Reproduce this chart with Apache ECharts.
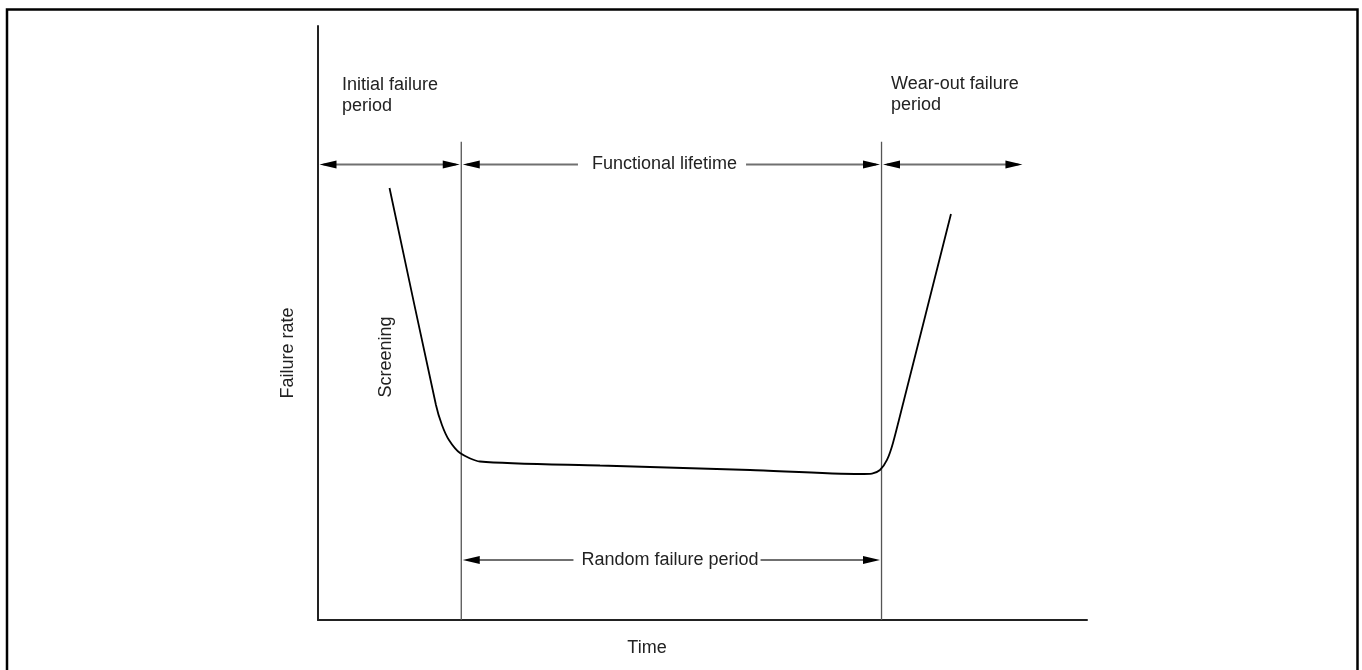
<!DOCTYPE html>
<html>
<head>
<meta charset="utf-8">
<title>Failure rate curve</title>
<script src="https://cdn.jsdelivr.net/npm/echarts@6/dist/echarts.min.js"></script>
<style>
  html, body { margin: 0; padding: 0; background: #fff; }
  #chart { width: 1362px; height: 670px; }
</style>
</head>
<body>
<div id="chart"></div>
<script>
// bathtub curve, arbitrary units (0-100 on both axes)
const curveTime = [9.3, 15.34, 16.12, 17.03, 18.47, 21.07, 36.67, 56.18, 70.48, 72.04, 73.08, 73.99, 74.77, 76.2, 82.31]
const curveRate = [72.73, 36.2, 32.83, 30.3, 28.11, 26.68, 26.01, 25.25, 24.58, 24.66, 25.25, 26.94, 29.8, 37.04, 68.35]

// period boundaries on the time axis
const boundaries = [18.63, 73.28]
const boundaryTop = 80.5

// double-headed arrows: [from, to, level]
const periodArrows = [
  [0, 18.63, 76.68],
  [18.63, 73.28, 76.68],
  [73.28, 91.8, 76.68],
  [18.63, 73.28, 10.1]
]

const FONT = 'Liberation Sans, Arial, sans-serif'
const TEXT = '#222'

const chart = echarts.init(document.getElementById('chart'))

// arrow shaft + black heads, tips sit just off the lines they touch
function renderArrow(params, api) {
  const p1 = api.coord([api.value(0), api.value(2)])
  const p2 = api.coord([api.value(1), api.value(2)])
  const x1 = p1[0] + 1.5
  const x2 = p2[0] - 1.5
  const y = p1[1]
  const len = 17
  const half = 4
  return {
    type: 'group',
    children: [
      {
        type: 'line',
        shape: { x1: x1 + 4, y1: y, x2: x2 - 4, y2: y },
        style: { stroke: '#707070', lineWidth: 2 }
      },
      {
        type: 'polygon',
        shape: { points: [[x1, y], [x1 + len, y - half], [x1 + len, y + half]] },
        style: { fill: '#000' }
      },
      {
        type: 'polygon',
        shape: { points: [[x2, y], [x2 - len, y - half], [x2 - len, y + half]] },
        style: { fill: '#000' }
      }
    ]
  }
}

const textStyle = {
  fill: TEXT,
  fontSize: 18,
  fontFamily: FONT
}

chart.setOption({
  animation: false,
  backgroundColor: '#fff',
  grid: {
    left: 318,
    right: 275,
    top: 26,
    bottom: 50
  },
  xAxis: {
    type: 'value',
    min: 0,
    max: 100,
    axisLine: { lineStyle: { color: '#222', width: 2 } },
    axisTick: { show: false },
    axisLabel: { show: false },
    splitLine: { show: false }
  },
  yAxis: {
    type: 'value',
    min: 0,
    max: 100,
    axisLine: { show: true, lineStyle: { color: '#222', width: 2 } },
    axisTick: { show: false },
    axisLabel: { show: false },
    splitLine: { show: false }
  },
  series: [
    {
      type: 'line',
      data: curveTime.map((t, i) => [t, curveRate[i]]),
      showSymbol: false,
      smooth: 0.25,
      lineStyle: { color: '#000', width: 1.8 },
      z: 3
    },
    ...boundaries.map(b => ({
      type: 'line',
      data: [[b, 0], [b, boundaryTop]],
      showSymbol: false,
      lineStyle: { color: '#555', width: 1.3 },
      z: 2
    })),
    {
      type: 'custom',
      renderItem: renderArrow,
      data: periodArrows,
      z: 4
    }
  ],
  graphic: [
    {
      type: 'rect',
      shape: { x: 7, y: 9.5, width: 1350.5, height: 700 },
      style: { fill: 'none', stroke: '#000', lineWidth: 2.5 },
      z: 100
    },
    {
      type: 'text',
      x: 342, y: 75,
      style: Object.assign({ text: 'Initial failure\nperiod', lineHeight: 21 }, textStyle),
      z: 100
    },
    {
      type: 'text',
      x: 891, y: 74,
      style: Object.assign({ text: 'Wear-out failure\nperiod', lineHeight: 21 }, textStyle),
      z: 100
    },
    {
      type: 'text',
      x: 662, y: 164.5,
      style: Object.assign({
        text: 'Functional lifetime',
        align: 'center',
        verticalAlign: 'middle',
        backgroundColor: '#fff',
        padding: [2, 9, 2, 14]
      }, textStyle),
      z: 100
    },
    {
      type: 'text',
      x: 667, y: 560,
      style: Object.assign({
        text: 'Random failure period',
        align: 'center',
        verticalAlign: 'middle',
        backgroundColor: '#fff',
        padding: [2, 2, 2, 8]
      }, textStyle),
      z: 100
    },
    {
      type: 'text',
      x: 386, y: 357,
      rotation: Math.PI / 2,
      style: Object.assign({ text: 'Screening', align: 'center', verticalAlign: 'middle' }, textStyle),
      z: 100
    },
    {
      type: 'text',
      x: 288, y: 353,
      rotation: Math.PI / 2,
      style: Object.assign({ text: 'Failure rate', align: 'center', verticalAlign: 'middle' }, textStyle),
      z: 100
    },
    {
      type: 'text',
      x: 647, y: 648,
      style: Object.assign({ text: 'Time', align: 'center', verticalAlign: 'middle' }, textStyle),
      z: 100
    }
  ]
})

window.addEventListener('resize', () => chart.resize())
</script>
</body>
</html>
